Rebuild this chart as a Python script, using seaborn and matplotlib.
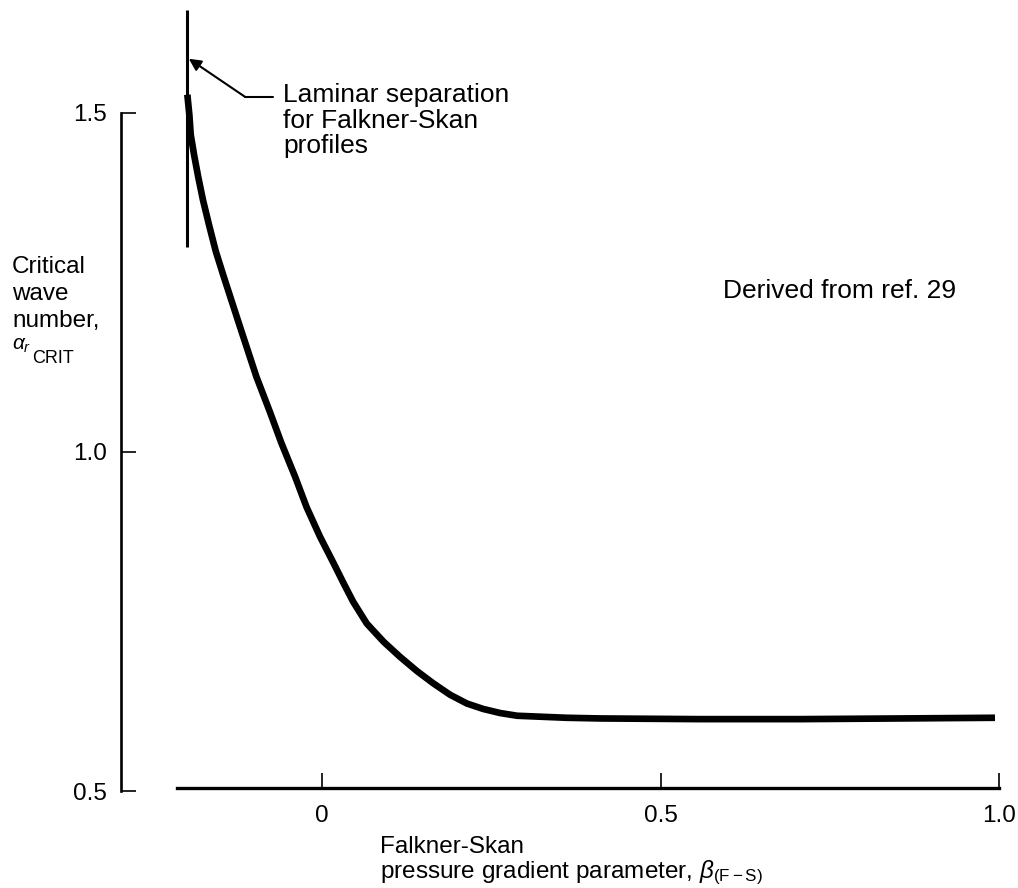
import matplotlib
matplotlib.use("Agg")
import matplotlib.pyplot as plt
import pandas as pd
import seaborn as sns

# Critical wave number of Falkner-Skan profiles vs. pressure-gradient parameter
beta_fs = [-0.199, -0.196, -0.194, -0.189, -0.183, -0.176, -0.167, -0.157,
           -0.146, -0.134, -0.121, -0.097, -0.077, -0.060, -0.040, -0.023,
           -0.003, 0.017, 0.032, 0.046, 0.066, 0.091, 0.115, 0.140,
           0.164, 0.189, 0.214, 0.238, 0.263, 0.288, 0.312, 0.361,
           0.411, 0.558, 0.706, 0.854, 0.994]
alpha_crit = [1.527, 1.497, 1.468, 1.438, 1.406, 1.372, 1.335, 1.296,
              1.261, 1.224, 1.184, 1.111, 1.059, 1.013, 0.964, 0.919,
              0.875, 0.836, 0.806, 0.779, 0.747, 0.720, 0.698, 0.677,
              0.659, 0.642, 0.629, 0.621, 0.615, 0.611, 0.610, 0.608,
              0.607, 0.606, 0.606, 0.607, 0.608]

# Laminar separation limit of the Falkner-Skan family
separation_beta = -0.1988
separation_alpha = [1.302, 1.652]
separation_arrow_alpha = 1.580

x_ticks = [0.0, 0.5, 1.0]
x_tick_labels = ["0", "0.5", "1.0"]
y_ticks = [0.5, 1.0, 1.5]
y_tick_labels = ["0.5", "1.0", "1.5"]

sns.set_theme(style="white")
plt.rcParams["font.family"] = ["Liberation Sans", "DejaVu Sans"]
plt.rcParams["mathtext.fontset"] = "custom"
plt.rcParams["mathtext.rm"] = "Liberation Sans"
plt.rcParams["mathtext.it"] = "Liberation Sans:italic"
plt.rcParams["mathtext.bf"] = "Liberation Sans:bold"
plt.rcParams["text.color"] = "black"

W, H = 1018, 888
fig = plt.figure(figsize=(W / 100, H / 100), dpi=100)
fig.patch.set_facecolor("white")


def fx(px):
    return px / W


def fy(py):
    return 1 - py / H


xlim = (-0.297, 1.012)
ylim = (0.5, 1.66)
ax = fig.add_axes([fx(121), fy(791),
                   (xlim[1] - xlim[0]) * 677 / W,
                   (ylim[1] - ylim[0]) * 678 / H])
ax.set_facecolor("none")

df = pd.DataFrame({"beta": beta_fs, "alpha": alpha_crit})
sns.lineplot(data=df, x="beta", y="alpha", sort=False, estimator=None,
             color="black", linewidth=4.8, ax=ax,
             solid_capstyle="butt", solid_joinstyle="round")

# separation marker and its label leader
ax.vlines(separation_beta, separation_alpha[0], separation_alpha[1],
          color="black", linewidth=2.2)
ax.annotate("", xy=(separation_beta + 0.002, separation_arrow_alpha),
            xytext=(-0.114, 1.524),
            arrowprops=dict(arrowstyle="-|>", color="black", lw=1.5,
                            mutation_scale=18, shrinkA=0, shrinkB=0))
ax.plot([-0.114, -0.072], [1.524, 1.524], color="black", lw=1.5)

ax.set_xlim(*xlim)
ax.set_ylim(*ylim)
ax.set_xlabel("")
ax.set_ylabel("")

for side in ("top", "right"):
    ax.spines[side].set_visible(False)
ax.spines["left"].set_bounds(0.5, 1.5)
ax.spines["left"].set_linewidth(1.9)
ax.spines["left"].set_color("black")
ax.spines["bottom"].set_position(("data", 0.505))
ax.spines["bottom"].set_bounds(-0.214, 1.0)
ax.spines["bottom"].set_linewidth(2.4)
ax.spines["bottom"].set_color("black")

ax.set_xticks(x_ticks, x_tick_labels)
ax.set_yticks(y_ticks, y_tick_labels)
ax.tick_params(axis="both", direction="in", length=11, width=1.2,
               colors="black", labelsize=17.5, bottom=True, left=True)
ax.tick_params(axis="x", pad=12.5)
ax.tick_params(axis="y", pad=10)

# axis titles
for i, line in enumerate(["Critical", "wave", "number,"]):
    fig.text(fx(12), fy(273 + 27 * i), line, fontsize=17.5, va="baseline")
fig.text(fx(12), fy(350), r"$\alpha_r$", fontsize=15, va="baseline")
fig.text(fx(32), fy(363), "CRIT", fontsize=13, va="baseline")

fig.text(fx(380), fy(853), "Falkner-Skan", fontsize=17.5, va="baseline")
fig.text(fx(380), fy(878),
         r"pressure gradient parameter, $\beta_{\mathrm{(F-S)}}$",
         fontsize=17.5, va="baseline")

# annotations
for i, line in enumerate(["Laminar separation", "for Falkner-Skan", "profiles"]):
    fig.text(fx(283), fy(102 + 25.5 * i), line, fontsize=19, va="baseline")
fig.text(fx(723), fy(298), "Derived from ref. 29", fontsize=19, va="baseline")

fig.savefig("out.png", dpi=100, facecolor="white")
